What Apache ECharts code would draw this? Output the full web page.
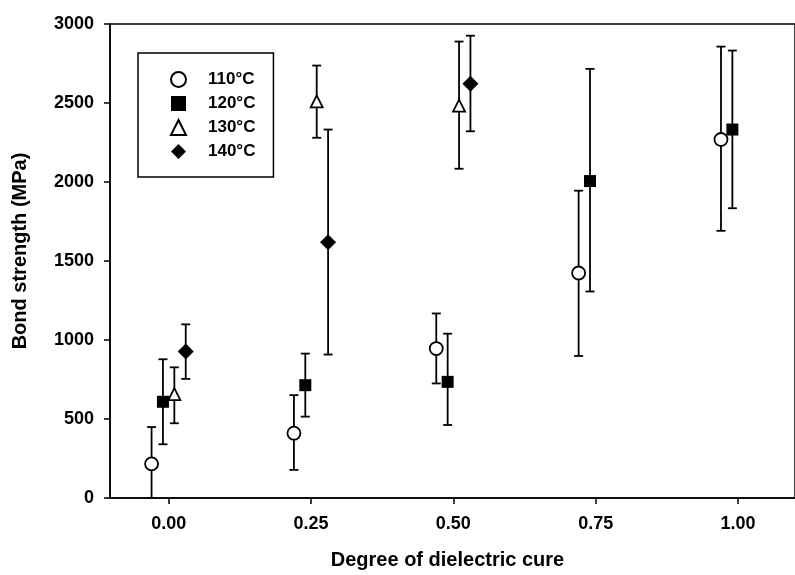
<!DOCTYPE html>
<html>
<head>
<meta charset="utf-8">
<script src="https://cdn.jsdelivr.net/npm/echarts@6/dist/echarts.min.js"></script>
<style>html,body{margin:0;padding:0;background:#fff}#c{width:795px;height:575px}</style>
</head>
<body>
<div id="c"></div>
<script>
// ---- data ----
const seriesNames = ['110°C', '120°C', '130°C', '140°C'];
const xTicks = [0, 0.25, 0.5, 0.75, 1.0];

const x110 = [-0.03, 0.22, 0.47, 0.72, 0.97];
const mean110 = [216, 410, 946, 1424, 2269];
const low110 = [0, 178, 725, 899, 1691];
const high110 = [449, 651, 1168, 1945, 2857];

const x120 = [-0.01, 0.24, 0.49, 0.74, 0.99];
const mean120 = [609, 714, 735, 2006, 2332];
const low120 = [340, 515, 462, 1307, 1834];
const high120 = [878, 914, 1040, 2716, 2832];

const x130 = [0.01, 0.26, 0.51];
const mean130 = [657, 2510, 2483];
const low130 = [473, 2280, 2084];
const high130 = [827, 2737, 2889];

const x140 = [0.03, 0.28, 0.53];
const mean140 = [928, 1618, 2622];
const low140 = [754, 908, 2321];
const high140 = [1099, 2332, 2926];

// ---- build ----
const FONT = 'Liberation Sans';
const groups = [
  {name: seriesNames[0], xs: x110, m: mean110, lo: low110, hi: high110, symbol: 'circle', size: 13, hollow: true},
  {name: seriesNames[1], xs: x120, m: mean120, lo: low120, hi: high120, symbol: 'rect', size: 12, hollow: false},
  {name: seriesNames[2], xs: x130, m: mean130, lo: low130, hi: high130, symbol: 'triangle', size: 12, hollow: true},
  {name: seriesNames[3], xs: x140, m: mean140, lo: low140, hi: high140, symbol: 'diamond', size: 16, hollow: false}
];

function errRender(params, api) {
  const x = api.value(0), lo = api.value(1), hi = api.value(2);
  const a = api.coord([x, lo]);
  const b = api.coord([x, hi]);
  const w = 4.5;
  const st = {stroke: '#000', lineWidth: 1.8};
  return {type: 'group', children: [
    {type: 'line', shape: {x1: a[0], y1: a[1], x2: b[0], y2: b[1]}, style: st},
    {type: 'line', shape: {x1: a[0] - w, y1: a[1], x2: a[0] + w, y2: a[1]}, style: st},
    {type: 'line', shape: {x1: b[0] - w, y1: b[1], x2: b[0] + w, y2: b[1]}, style: st}
  ]};
}

const series = [];
groups.forEach(g => {
  series.push({
    type: 'custom',
    renderItem: errRender,
    encode: {x: 0, y: [1, 2]},
    data: g.xs.map((x, i) => [x, g.lo[i], g.hi[i]]),
    z: 2,
    silent: true
  });
});
groups.forEach(g => {
  series.push({
    type: 'scatter',
    name: g.name,
    symbol: g.symbol,
    symbolSize: g.size,
    data: g.xs.map((x, i) => [x, g.m[i]]),
    itemStyle: g.hollow ? {color: '#fff', borderColor: '#000', borderWidth: 1.8, opacity: 1}
                        : {color: '#000', borderColor: '#000', borderWidth: 0, opacity: 1},
    z: 5
  });
});

const chart = echarts.init(document.getElementById('c'), null, {renderer: 'canvas'});
chart.setOption({
  backgroundColor: '#fff',
  animation: false,
  grid: {left: 110, top: 24, bottom: 75, right: -4, show: true, borderColor: '#000', borderWidth: 1.5, backgroundColor: 'transparent'},
  legend: {
    data: seriesNames,
    orient: 'vertical',
    left: 138, top: 53,
    padding: [18, 18, 17, 32],
    itemWidth: 15, itemHeight: 15, itemGap: 7,
    borderColor: '#000', borderWidth: 1.5,
    textStyle: {fontFamily: FONT, fontSize: 17, fontWeight: 'bold', color: '#000', padding: [0, 0, 0, 17]},
    selectedMode: false
  },
  xAxis: {
    type: 'value', min: -0.103, max: 1.1,
    name: 'Degree of dielectric cure', nameLocation: 'middle', nameGap: 52,
    nameTextStyle: {fontFamily: FONT, fontSize: 20, fontWeight: 'bold', color: '#000', padding: [0, 10, 0, 0]},
    axisLine: {show: true, onZero: false, lineStyle: {color: '#000', width: 1.5}},
    axisTick: {show: true, length: 6, lineStyle: {color: '#000', width: 1.5}, customValues: xTicks},
    axisLabel: {fontFamily: FONT, fontSize: 18, fontWeight: 'bold', color: '#000', margin: 17,
                customValues: xTicks, formatter: v => v.toFixed(2)},
    splitLine: {show: false}
  },
  yAxis: {
    type: 'value', min: 0, max: 3000, interval: 500,
    name: 'Bond strength (MPa)', nameLocation: 'middle', nameGap: 80,
    nameTextStyle: {fontFamily: FONT, fontSize: 20, fontWeight: 'bold', color: '#000', padding: [0, 0, 0, 20]},
    axisLine: {show: true, onZero: false, lineStyle: {color: '#000', width: 1.5}},
    axisTick: {show: true, length: 6, lineStyle: {color: '#000', width: 1.5}},
    axisLabel: {fontFamily: FONT, fontSize: 18, fontWeight: 'bold', color: '#000', margin: 16,
                formatter: v => String(v)},
    splitLine: {show: false}
  },
  series: series
});
</script>
</body>
</html>
